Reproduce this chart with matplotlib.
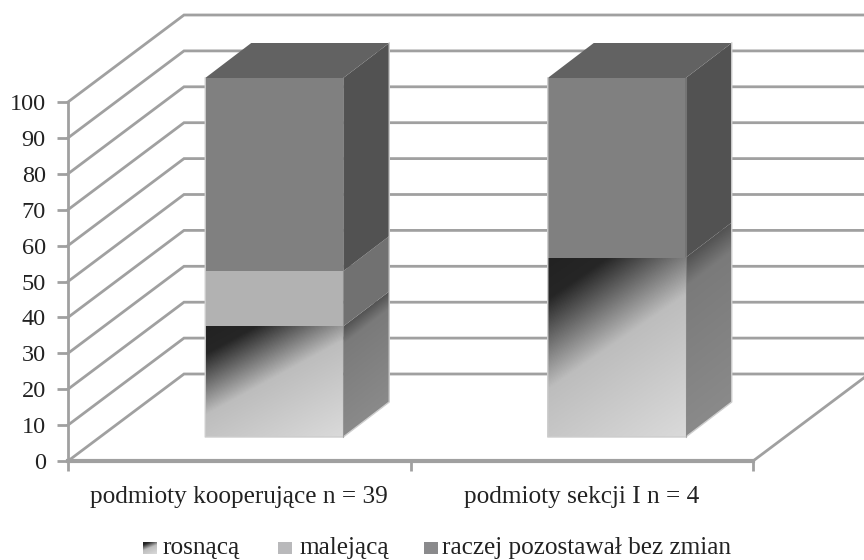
import numpy as np
import matplotlib
matplotlib.use("Agg")
import matplotlib.pyplot as plt
from matplotlib.colors import LinearSegmentedColormap
from matplotlib.patches import Polygon, Rectangle

categories = ["podmioty kooperujące n = 39", "podmioty sekcji I n = 4"]
series_names = ["rosnącą", "malejącą", "raczej pozostawał bez zmian"]
rosnaca = [30.8, 50.0]
malejaca = [15.4, 0.0]
raczej = [53.8, 50.0]
y_ticks = list(range(0, 101, 10))

plt.rcParams["font.family"] = ["Liberation Serif", "DejaVu Serif"]
plt.rcParams["font.size"] = 18.2

W, H = 864, 560
fig = plt.figure(figsize=(W / 100, H / 100), dpi=100)
ax = fig.add_axes([68 / W, 1 - 461 / H, 685 / W, 359 / H])
ax.set_xlim(0, 2)
ax.set_ylim(0, 100)

# sizes of the fake 3D, in axis units
px_x = 2 / 685
px_y = 100 / 359
wall_dx, wall_dy = 116 * px_x, 87 * px_y
bar_dx0, bar_dy0 = 35 * px_x, 24 * px_y
bar_dx, bar_dy = 46 * px_x, 35 * px_y
bar_w = 138 * px_x

GRID = "#a0a0a0"
dark_cmap = LinearSegmentedColormap.from_list(
    "front", [(0, "#222222"), (0.15, "#262626"), (0.48, "#bdbdbd"), (1, "#dadada")])
side_cmap = LinearSegmentedColormap.from_list(
    "side", [(0, "#525252"), (0.16, "#7a7a7a"), (1, "#8a8a8a")])


def gradient(poly_pts, values, cmap, extent, z):
    im = ax.imshow(values, extent=extent, origin="upper", aspect="auto", cmap=cmap,
                   vmin=0, vmax=1, zorder=z, interpolation="bilinear")
    clip = Polygon(poly_pts, closed=True, transform=ax.transData)
    im.set_clip_path(clip)


# walls
for v in y_ticks:
    ax.plot([0, wall_dx, 2 + wall_dx], [v, v + wall_dy, v + wall_dy], color=GRID, lw=2,
            clip_on=False, zorder=1, solid_joinstyle="miter")
ax.plot([2, 2 + wall_dx], [0, wall_dy], color=GRID, lw=2, clip_on=False, zorder=1)

# bars
for i in range(2):
    x0 = i + 0.5 - bar_w / 2 + bar_dx0
    x1 = x0 + bar_w
    y0 = bar_dy0
    y1 = y0 + rosnaca[i]
    y2 = y1 + malejaca[i]
    y3 = y2 + raczej[i]

    # rosnąca front, gradient running across the face
    wpx, hpx = 138, rosnaca[i] / px_y
    s = 0.3 + 0.3 * hpx / wpx
    xx, yy = np.meshgrid(np.linspace(0, wpx, 140), np.linspace(0, hpx, 140))
    t = (yy + s * xx) / (hpx + s * wpx)
    gradient([(x0, y0), (x1, y0), (x1, y1), (x0, y1)], t, dark_cmap, (x0, x1, y0, y1), 3)

    # rosnąca side
    xx, yy = np.meshgrid(np.linspace(0, 46, 60), np.linspace(-35, hpx, 200))
    t = np.clip((yy + 35 / 46 * xx) / hpx, 0, 1)
    gradient([(x1, y0), (x1 + bar_dx, y0 + bar_dy), (x1 + bar_dx, y1 + bar_dy), (x1, y1)],
             t, side_cmap, (x1, x1 + bar_dx, y0, y1 + bar_dy), 3)

    # malejąca
    if malejaca[i] > 0:
        ax.add_patch(Rectangle((x0, y1), bar_w, malejaca[i], fc="#b2b2b2", ec="none", zorder=3))
        ax.add_patch(Polygon([(x1, y1), (x1 + bar_dx, y1 + bar_dy), (x1 + bar_dx, y2 + bar_dy), (x1, y2)],
                             fc="#717171", ec="none", zorder=3))

    # raczej pozostawał
    ax.add_patch(Rectangle((x0, y2), bar_w, raczej[i], fc="#808080", ec="none", zorder=3, clip_on=False))
    ax.add_patch(Polygon([(x1, y2), (x1 + bar_dx, y2 + bar_dy), (x1 + bar_dx, y3 + bar_dy), (x1, y3)],
                         fc="#525252", ec="none", zorder=3, clip_on=False))
    ax.add_patch(Polygon([(x0, y3), (x1, y3), (x1 + bar_dx, y3 + bar_dy), (x0 + bar_dx, y3 + bar_dy)],
                         fc="#626262", ec="none", zorder=3, clip_on=False))

    # pale edge around the front and side
    ax.plot([x0, x0, x1, x1 + bar_dx, x1 + bar_dx], [y3, y0, y0, y0 + bar_dy, y3 + bar_dy],
            color="#cdcdcd", lw=1, zorder=4, clip_on=False)
    ax.plot([x1, x1], [y0, y3], color="#8c8c8c", lw=0.8, alpha=0.6, zorder=4, clip_on=False)

ax.set_xlim(0, 2)
ax.set_ylim(0, 100)

# axes
for side in ["top", "right"]:
    ax.spines[side].set_visible(False)
ax.spines["left"].set_color(GRID)
ax.spines["left"].set_linewidth(2)
ax.spines["bottom"].set_color(GRID)
ax.spines["bottom"].set_linewidth(3)
ax.patch.set_alpha(0)
ax.set_yticks(y_ticks)
ax.tick_params(axis="y", color=GRID, width=2, length=8, pad=8, labelcolor="#222222", labelsize=17.5)
ax.set_xticks([0, 1, 2])
ax.set_xticklabels([])
ax.tick_params(axis="x", which="major", color=GRID, width=2, length=7)
ax.set_xticks([0.5, 1.5], minor=True)
ax.set_xticklabels(categories, minor=True)
ax.tick_params(axis="x", which="minor", length=0, pad=18, labelcolor="#222222")

# legend, placed by hand so the first swatch can carry the gradient
swatch_x = [143, 278, 424]
text_x = [162, 299, 442]
swatch_col = [None, "#b9b9bb", "#8a8a8c"]
for name, sx, tx, col in zip(series_names, swatch_x, text_x, swatch_col):
    sax = fig.add_axes([sx / W, 1 - 554 / H, 14 / W, 12 / H])
    sax.axis("off")
    if col is None:
        xx, yy = np.meshgrid(np.linspace(0, 1, 30), np.linspace(0, 1, 30))
        sax.imshow((xx * 0.5 + yy) / 1.5, cmap=dark_cmap, vmin=0, vmax=1, aspect="auto")
    else:
        sax.add_patch(Rectangle((0, 0), 1, 1, fc=col, ec="none"))
    fig.text(tx / W, 1 - 548 / H, name, ha="left", va="center", color="#222222")

fig.savefig("out.png", dpi=100)
